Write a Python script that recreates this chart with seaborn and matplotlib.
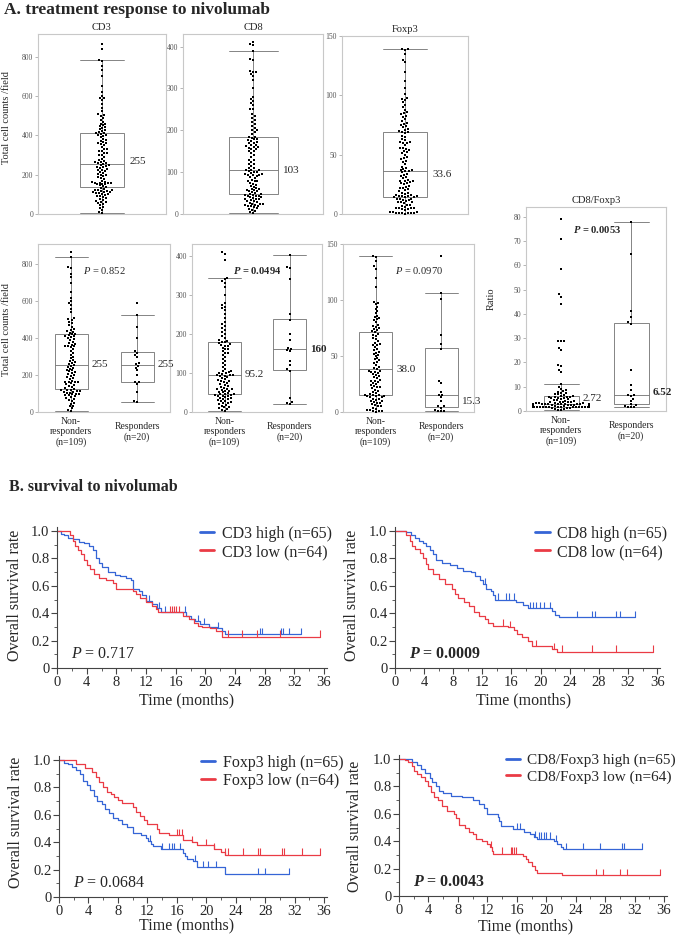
import numpy as np
import pandas as pd
import matplotlib
matplotlib.use("Agg")
import matplotlib.pyplot as plt
import seaborn as sns

# ---------------- A. cell counts per field ----------------
groups = ["Non-\nresponders\n(n=109)", "Responders\n(n=20)"]

cd3_nr = [5, 10, 20, 30, 35, 45, 50, 60, 65, 70, 75, 80, 85, 90, 90, 95, 100, 100, 105, 105,
          110, 110, 115, 115, 120, 120, 120, 125,
          130, 135, 140, 145, 150, 155, 160, 160, 165, 165, 170, 180, 185, 190, 195, 200, 205,
          210, 215, 220, 225, 230, 235, 240, 245, 250, 255,
          260, 265, 270, 275, 280, 290, 300, 310, 320, 330, 340, 350, 355, 360, 360, 365, 370,
          375, 380, 390, 395, 400, 405, 410, 410, 415, 420,
          425, 430, 435, 440, 445, 450, 460, 470, 480, 490, 500, 505, 510, 540, 560, 580, 590,
          600, 620, 650, 700, 730, 750, 780, 785, 840, 865]
cd3_r = [55, 60, 110, 150, 160, 160, 200, 225, 240, 250, 260, 265, 300, 310, 320, 330, 400,
         460, 525, 590]

cd8_nr = [3, 5, 8, 10, 12, 14, 16, 18, 20, 22, 24, 25, 27, 28, 30, 32, 33, 35, 36, 38, 40, 40,
          42, 43, 44, 45, 46, 47,
          48, 50, 52, 54, 55, 57, 58, 60, 60, 62, 65, 67, 70, 72, 75, 78, 80, 80, 82, 85, 88,
          90, 92, 93, 94, 95, 95.2,
          97, 100, 100, 102, 104, 105, 110, 115, 120, 125, 130, 135, 140, 145, 150, 150, 155,
          160, 160, 165, 170, 170, 172, 175, 176, 178, 180,
          182, 185, 190, 195, 200, 205, 210, 215, 220, 225, 230, 240, 250, 260, 265, 270, 275,
          280, 300, 320, 330, 335, 340, 342, 390, 405, 410]
cd8_r = [20, 22, 25, 35, 105, 110, 120, 130, 155, 158, 162, 165, 185, 200, 235, 250, 340, 368,
         370, 403]

foxp3_nr = [0, 0.5, 1, 1, 2, 2, 3, 4, 5, 5, 6, 7, 8, 8, 9, 10, 10, 11, 12, 12, 13, 13, 14, 14,
            14, 15, 15, 15.5,
            16, 17, 18, 19, 20, 21, 22, 22, 23, 24, 25, 26, 27, 28, 28, 29, 30, 31, 32, 33, 34,
            35, 36, 36, 37, 37, 38,
            39, 40, 42, 44, 45, 46, 47, 48, 50, 51, 52, 53, 54, 55, 56, 58, 60, 60, 61, 62, 63,
            65, 66, 68, 69, 70, 71,
            72, 73, 74, 75, 76, 77, 78, 80, 82, 83, 84, 85, 86, 88, 90, 92, 94, 96, 97, 98, 112,
            120, 128, 130, 135, 138, 139]
foxp3_r = [0.5, 1, 1, 2, 4, 5, 5, 10, 13, 15, 15.6, 18, 26, 28, 56, 61, 69, 101, 106, 139]

ratio_nr = [0.3, 0.5, 0.8, 1.0, 1.2, 1.3, 1.4, 1.5, 1.5, 1.6, 1.6, 1.6, 1.7, 1.7, 1.7, 1.7,
            1.7, 1.7, 1.7, 1.7, 1.7, 1.7, 1.7, 1.7, 1.7, 1.7, 1.7, 1.75,
            1.8, 1.9, 2.0, 2.0, 2.1, 2.1, 2.2, 2.2, 2.3, 2.3, 2.3, 2.4, 2.4, 2.4, 2.5, 2.5, 2.5,
            2.6, 2.6, 2.6, 2.6, 2.7, 2.7, 2.7, 2.7, 2.7, 2.72,
            2.8, 2.9, 3.0, 3.0, 3.1, 3.2, 3.3, 3.4, 3.5, 3.6, 3.7, 3.8, 3.9, 4.0, 4.2, 4.4, 4.6,
            4.8, 5.0, 5.2, 5.3, 5.5, 5.6, 5.7, 5.8, 5.9, 6.0,
            6.2, 6.5, 6.8, 7.0, 7.3, 7.6, 8.0, 8.3, 8.7, 9.2, 10.0, 11.3, 16.0, 17.0, 18.5, 19.0,
            25.0, 26.0, 29.0, 29.0, 29.0, 44.0, 47.0, 48.0, 58.5, 71.0, 79.0]
ratio_r = [1.5, 1.5, 1.6, 2.0, 2.5, 2.8, 4.0, 5.0, 6.0, 6.4, 6.64, 8.5, 10.5, 17.0, 36.0, 36.5,
           38.5, 41.0, 64.5, 78.0]

marker_names = ["CD3", "CD8", "Foxp3"]
top_medians = ["255", "103", "33.6"]
low_medians = [["255", "255"], ["95.2", "160"], ["38.0", "15.3"], ["2.72", "6.52"]]
low_median_bold = [[False, False], [False, True], [False, False], [False, True]]
p_values_a = [r"$P$ = 0.852", r"$\mathbfit{P}$ = 0.0494", r"$P$ = 0.0970", r"$\mathbfit{P}$ = 0.0053"]
p_bold_a = [False, True, False, True]
count_ticks = [[0, 200, 400, 600, 800], [0, 100, 200, 300, 400], [0, 50, 100, 150]]
ratio_ticks = [0, 10, 20, 30, 40, 50, 60, 70, 80]

# ---------------- B. Kaplan-Meier curves (step times, survival after step, censor times) -----
cd3_hi_t = [0.6, 1.0, 1.5, 2.2, 3.0, 3.6, 4.3, 4.8, 5.2, 5.6, 6.0, 6.9, 7.8, 8.5, 9.3, 10.0, 10.3,
            11.0, 11.5, 12.0, 12.8, 13.5, 14.0, 17.4, 18.0, 18.6, 19.3, 20.5, 21.6, 22.3, 22.6]
cd3_hi_s = [0.98, 0.97, 0.95, 0.94, 0.92, 0.91, 0.89, 0.86, 0.80, 0.77, 0.74, 0.70, 0.68, 0.67,
            0.66, 0.64, 0.58, 0.56, 0.53, 0.49, 0.47, 0.44, 0.41, 0.38, 0.36, 0.34, 0.32, 0.30,
            0.29, 0.27, 0.25]
cd3_hi_c = [12.4, 13.7, 14.5, 17.3, 19.0, 19.8, 21.7, 27.3, 27.6, 30.2, 30.5, 31.3, 32.9]
cd3_lo_t = [1.8, 2.1, 2.4, 2.8, 3.3, 3.7, 4.0, 4.5, 5.0, 5.7, 6.6, 7.6, 8.0, 10.2, 10.7, 11.2,
            12.0, 12.8, 13.3, 13.6, 17.0, 17.8, 18.5, 19.0, 19.6, 20.6, 21.5, 22.2]
cd3_lo_s = [0.97, 0.93, 0.89, 0.86, 0.83, 0.79, 0.75, 0.72, 0.69, 0.66, 0.64, 0.62, 0.58, 0.56,
            0.54, 0.51, 0.48, 0.45, 0.43, 0.41, 0.38, 0.36, 0.33, 0.31, 0.30, 0.29, 0.27, 0.23]
cd3_lo_c = [15.2, 15.5, 15.8, 16.1, 16.4, 23.0, 25.0, 27.0, 30.1, 35.5]

cd8_hi_t = [1.5, 2.2, 2.7, 3.3, 3.8, 4.3, 4.8, 5.2, 5.7, 6.5, 7.5, 8.5, 9.3, 10.5, 11.0, 11.7,
            12.1, 12.5, 13.2, 13.5, 13.8, 16.6, 17.6, 18.3, 21.6, 22.0, 22.5]
cd8_hi_s = [0.99, 0.97, 0.95, 0.93, 0.91, 0.89, 0.86, 0.83, 0.79, 0.77, 0.75, 0.73, 0.71, 0.70,
            0.67, 0.64, 0.61, 0.58, 0.56, 0.53, 0.50, 0.48, 0.46, 0.44, 0.42, 0.39, 0.37]
cd8_hi_c = [12.4, 14.2, 15.2, 15.6, 16.3, 18.6, 19.0, 19.4, 19.9, 20.5, 21.3, 25.0, 27.0, 27.5,
            30.3, 30.9, 33.0]
cd8_lo_t = [1.5, 2.0, 2.3, 2.7, 3.5, 3.8, 4.2, 4.6, 5.2, 6.0, 6.8, 7.8, 8.2, 8.6, 9.5, 10.2,
            10.8, 11.5, 12.3, 12.8, 13.5, 15.5, 16.3, 16.8, 17.5, 18.2, 18.8, 21.6, 22.3]
cd8_lo_s = [0.97, 0.93, 0.89, 0.87, 0.84, 0.80, 0.76, 0.72, 0.69, 0.65, 0.61, 0.58, 0.54, 0.51,
            0.48, 0.45, 0.41, 0.38, 0.36, 0.33, 0.31, 0.30, 0.28, 0.25, 0.23, 0.20, 0.16, 0.14,
            0.12]
cd8_lo_c = [14.8, 15.8, 19.3, 21.8, 23.0, 27.0, 30.3, 35.5]

foxp3_hi_t = [0.7, 1.2, 1.8, 2.3, 2.8, 3.3, 3.8, 4.2, 4.8, 5.1, 5.8, 6.3, 6.8, 7.3, 8.0, 8.5,
              9.3, 10.0, 11.2, 11.8, 12.1, 12.5, 12.8, 13.8, 16.8, 17.1, 17.4, 18.2, 18.8, 22.5]
foxp3_hi_s = [0.98, 0.97, 0.95, 0.93, 0.90, 0.85, 0.82, 0.78, 0.74, 0.70, 0.68, 0.64, 0.61,
              0.58, 0.56, 0.53, 0.51, 0.47, 0.45, 0.43, 0.41, 0.39, 0.37, 0.35, 0.32, 0.30,
              0.28, 0.26, 0.22, 0.17]
foxp3_hi_c = [12.3, 14.0, 15.0, 15.3, 15.6, 16.5, 18.5, 19.5, 20.3, 21.3, 27.0, 28.0, 31.2]
foxp3_lo_t = [2.3, 3.5, 4.5, 5.0, 5.5, 6.0, 6.5, 7.0, 7.5, 8.0, 8.5, 10.0, 10.5, 11.0, 11.5,
              12.0, 13.3, 13.6, 15.0, 16.8, 18.0, 18.7, 21.0, 22.0, 22.5]
foxp3_lo_s = [0.97, 0.94, 0.91, 0.88, 0.84, 0.80, 0.77, 0.75, 0.73, 0.71, 0.69, 0.66, 0.62,
              0.59, 0.56, 0.53, 0.50, 0.47, 0.45, 0.42, 0.40, 0.38, 0.35, 0.33, 0.31]
foxp3_lo_c = [16.0, 16.3, 16.7, 18.0, 20.0, 21.0, 22.5, 23.0, 25.0, 27.0, 27.3, 30.3, 30.5,
              33.0, 35.5]

ratio_hi_t = [1.8, 2.5, 3.0, 3.5, 4.2, 4.5, 5.0, 5.5, 6.0, 7.0, 8.5, 10.0, 10.8, 11.5, 12.0,
              13.5, 13.6, 13.8, 15.5, 17.0, 17.8, 18.3, 18.8, 21.0, 21.5, 22.0, 22.3]
ratio_hi_s = [0.98, 0.96, 0.93, 0.90, 0.86, 0.83, 0.80, 0.77, 0.75, 0.73, 0.72, 0.70, 0.67,
              0.64, 0.60, 0.58, 0.55, 0.51, 0.49, 0.47, 0.45, 0.43, 0.42, 0.40, 0.38, 0.36, 0.34]
ratio_hi_c = [16.0, 16.5, 18.5, 19.0, 19.3, 19.7, 20.0, 20.5, 21.3, 22.7, 25.0, 27.3, 30.3,
              30.6, 33.0]
ratio_lo_t = [0.8, 1.2, 1.8, 2.0, 2.5, 3.0, 3.5, 4.0, 4.3, 4.7, 5.3, 5.8, 6.5, 7.5, 7.8, 8.2,
              9.0, 9.5, 10.0, 10.5, 11.3, 12.0, 12.3, 12.6, 12.8, 16.8, 17.2, 17.5, 18.0, 18.5,
              18.8, 22.2]
ratio_lo_s = [0.99, 0.98, 0.95, 0.91, 0.89, 0.87, 0.84, 0.80, 0.76, 0.72, 0.70, 0.66, 0.62,
              0.60, 0.57, 0.52, 0.50, 0.47, 0.45, 0.42, 0.40, 0.38, 0.36, 0.33, 0.31, 0.29,
              0.27, 0.25, 0.22, 0.19, 0.17, 0.15]
ratio_lo_c = [12.5, 14.0, 15.2, 15.4, 15.6, 15.9, 26.8, 27.7, 30.0, 31.0, 35.5]

km_names = ["CD3", "CD8", "Foxp3", "CD8/Foxp3"]
km_p = [r"$P$ = 0.717", r"$\mathbfit{P}$ = 0.0009", r"$P$ = 0.0684", r"$\mathbfit{P}$ = 0.0043"]
km_p_bold = [False, True, False, True]
km_n = ["(n=65)", "(n=64)"]
surv_ticks = [0, 0.2, 0.4, 0.6, 0.8, 1.0]
surv_ticklabels = ["0", "0.2", "0.4", "0.6", "0.8", "1.0"]
month_ticks = [0, 4, 8, 12, 16, 20, 24, 28, 32, 36]

BLUE = "#3565d6"
RED = "#ea3b45"

# ---------------- style ----------------
sns.set_theme(style="white")
plt.rcParams["font.family"] = ["Liberation Serif", "DejaVu Serif"]
plt.rcParams["mathtext.fontset"] = "custom"
plt.rcParams["mathtext.rm"] = "Liberation Serif"
plt.rcParams["mathtext.it"] = "Liberation Serif:italic"
plt.rcParams["mathtext.bf"] = "Liberation Serif:bold"
plt.rcParams["mathtext.bfit"] = "Liberation Serif:italic:bold"

W, H = 684, 938
fig = plt.figure(figsize=(W / 100, H / 100), dpi=100)


def px_axes(x0, y0, x1, y1):
    return fig.add_axes([x0 / W, 1 - y1 / H, (x1 - x0) / W, (y1 - y0) / H])


def fix_caps(ax, width):
    # JMP style: whisker caps as wide as the box
    for ln in ax.lines:
        x = np.asarray(ln.get_xdata(), float)
        y = np.asarray(ln.get_ydata(), float)
        if len(x) == 2 and y[0] == y[1] and x[0] != x[1]:
            c = x.mean()
            ln.set_xdata([c - width / 2, c + width / 2])


def dot_box(ax, df, order, width):
    sns.boxplot(data=df, x="grp", y="val", order=order, width=width, whis=1.5,
                showfliers=False, color="white", linecolor="#707070", linewidth=0.6, ax=ax)
    fix_caps(ax, width)
    sns.swarmplot(data=df, x="grp", y="val", order=order, color="black", size=2.1,
                  marker="s", linewidth=0, ax=ax, warn_thresh=1)
    ax.set_xlabel("")
    ax.set_ylabel("")
    for sp in ax.spines.values():
        sp.set_visible(True)
        sp.set_color("#c8c8c8")
        sp.set_linewidth(0.8)
    ax.tick_params(axis="y", left=True, labelsize=5.5, labelcolor="#555555", length=2,
                   width=0.5, color="#999999", pad=1.5)


# ---------------- A: top row (all patients) ----------------
top_rects = [(38, 34, 166, 214), (183, 34, 323, 214), (342, 36, 468, 214)]
all_vals = [cd3_nr + cd3_r, cd8_nr + cd8_r, foxp3_nr + foxp3_r]
top_ylim = [915, 430, 150]
top_dy = [2, 0, 0]
for i in range(3):
    ax = px_axes(*top_rects[i])
    df = pd.DataFrame({"grp": ["all"] * len(all_vals[i]), "val": all_vals[i]})
    dot_box(ax, df, ["all"], 0.35)
    ax.set_xlim(-0.5, 0.5)
    ax.set_ylim(0, top_ylim[i])
    ax.set_yticks(count_ticks[i])
    ax.set_xticks([])
    ax.set_title(marker_names[i], fontsize=7.6, pad=3)
    ax.annotate(top_medians[i], xy=(0.175, float(top_medians[i])), xytext=(4, top_dy[i]),
                textcoords="offset points", ha="left", va="center", fontsize=8)

# ---------------- A: bottom row (responders vs non-responders) ----------------
low_rects = [(38, 244, 170, 412), (192, 244, 322, 412), (343, 244, 474, 412), (526, 207, 666, 411)]
low_vals = [(cd3_nr, cd3_r), (cd8_nr, cd8_r), (foxp3_nr, foxp3_r), (ratio_nr, ratio_r)]
low_ylim = [910, 430, 150, 84]
low_ticks = count_ticks + [ratio_ticks]
p_pos = [(0.5, 0.84), (0.5, 0.845), (0.58, 0.845), (0.51, 0.89)]
low_dy = [[0, 0], [0, 0], [0, -5], [4.5, 2.2]]
for i in range(4):
    ax = px_axes(*low_rects[i])
    nr, r = low_vals[i]
    df = pd.DataFrame({"grp": [groups[0]] * len(nr) + [groups[1]] * len(r), "val": nr + r})
    dot_box(ax, df, groups, 0.5)
    ax.set_xlim(-0.5, 1.5)
    ax.set_ylim(0, low_ylim[i])
    ax.set_yticks(low_ticks[i])
    ax.tick_params(axis="x", length=0, labelsize=7, pad=14.5)
    for lab in ax.get_xticklabels():
        lab.set_va("center")
    for j in range(2):
        ax.annotate(low_medians[i][j], xy=(j + 0.25, float(low_medians[i][j])),
                    xytext=(3, low_dy[i][j]), textcoords="offset points", ha="left",
                    va="center", fontsize=8,
                    fontweight="bold" if low_median_bold[i][j] else "normal")
    ax.text(p_pos[i][0], p_pos[i][1], p_values_a[i], transform=ax.transAxes, ha="center",
            va="center", fontsize=7.6, fontweight="bold" if p_bold_a[i] else "normal")
    if i == 3:
        ax.set_title("CD8/Foxp3", fontsize=7.6, pad=3)

fig.text(7 / W, 1 - 118 / H, "Total cell counts /field", rotation=90, ha="center",
         va="center", fontsize=7.5)
fig.text(7 / W, 1 - 330 / H, "Total cell counts /field", rotation=90, ha="center",
         va="center", fontsize=7.5)
fig.text(491 / W, 1 - 299 / H, "Ratio", rotation=90, ha="center", va="center", fontsize=7.5)

# ---------------- B: survival ----------------
km_rects = [(57, 527, 327, 668), (395, 527, 660, 668), (59, 756, 327, 897), (399, 755, 667, 896)]
km_data = [
    ((cd3_hi_t, cd3_hi_s, cd3_hi_c), (cd3_lo_t, cd3_lo_s, cd3_lo_c)),
    ((cd8_hi_t, cd8_hi_s, cd8_hi_c), (cd8_lo_t, cd8_lo_s, cd8_lo_c)),
    ((foxp3_hi_t, foxp3_hi_s, foxp3_hi_c), (foxp3_lo_t, foxp3_lo_s, foxp3_lo_c)),
    ((ratio_hi_t, ratio_hi_s, ratio_hi_c), (ratio_lo_t, ratio_lo_s, ratio_lo_c)),
]
leg_x = [0.53, 0.53, 0.53, 0.40]
ylab_pos = [(15, 595), (352, 595), (16, 822), (355, 826)]
xlab_pos = [(187, 700), (524, 700), (187, 925), (526, 926)]

for k in range(4):
    ax = px_axes(*km_rects[k])
    for (t, s, c), col, lvl, nn in zip(km_data[k], [BLUE, RED], ["high", "low"], km_n):
        xs = [0.0] + t + [max(c)]
        ys = [1.0] + s + [s[-1]]
        sns.lineplot(x=xs, y=ys, drawstyle="steps-post", estimator=None, sort=False,
                     color=col, linewidth=0.9, ax=ax, label=f"{km_names[k]} {lvl} {nn}")
        idx = np.searchsorted(xs, c, side="right") - 1
        base = np.asarray(ys)[idx]
        ax.vlines(c, base, base + 0.045, color=col, linewidth=0.8)
    ax.set_xlim(0, 36.4)
    ax.set_ylim(0, 1.03)
    ax.set_xticks(month_ticks)
    ax.set_xticks(np.arange(0, 37, 2), minor=True)
    ax.set_yticks(surv_ticks)
    ax.set_yticklabels(surv_ticklabels)
    ax.set_yticks(np.arange(0, 1.01, 0.1), minor=True)
    for side in ["top", "right"]:
        ax.spines[side].set_visible(False)
    for side in ["left", "bottom"]:
        ax.spines[side].set_color("#444444")
        ax.spines[side].set_linewidth(0.8)
    ax.tick_params(which="major", left=True, bottom=True, length=4, width=0.8,
                   color="#444444", labelsize=10.5, pad=1.5)
    ax.tick_params(which="minor", left=True, bottom=True, length=2, width=0.6, color="#444444")
    ax.set_xlabel("")
    ax.set_ylabel("")
    leg = ax.legend(loc="upper left", bbox_to_anchor=(leg_x[k], 1.01), frameon=False,
                    fontsize=11.5 if k < 3 else 11, handlelength=0.9, handletextpad=0.45,
                    labelspacing=0.15, borderpad=0, borderaxespad=0)
    for lh in leg.get_lines():
        lh.set_linewidth(2)
    ax.text(1.9, 0.1, km_p[k], ha="left", va="center", fontsize=11.5,
            fontweight="bold" if km_p_bold[k] else "normal")
    fig.text(ylab_pos[k][0] / W, 1 - ylab_pos[k][1] / H, "Overall survival rate",
             rotation=90, ha="center", va="center", fontsize=11.5)
    fig.text(xlab_pos[k][0] / W, 1 - xlab_pos[k][1] / H, "Time (months)",
             ha="center", va="center", fontsize=11.5)

fig.text(4 / W, 1 - 10 / H, "A. treatment response to nivolumab", ha="left", va="center",
         fontsize=12.5, fontweight="bold")
fig.text(9 / W, 1 - 487 / H, "B. survival to nivolumab", ha="left", va="center",
         fontsize=11.5, fontweight="bold")

fig.savefig("out.png", dpi=100)
